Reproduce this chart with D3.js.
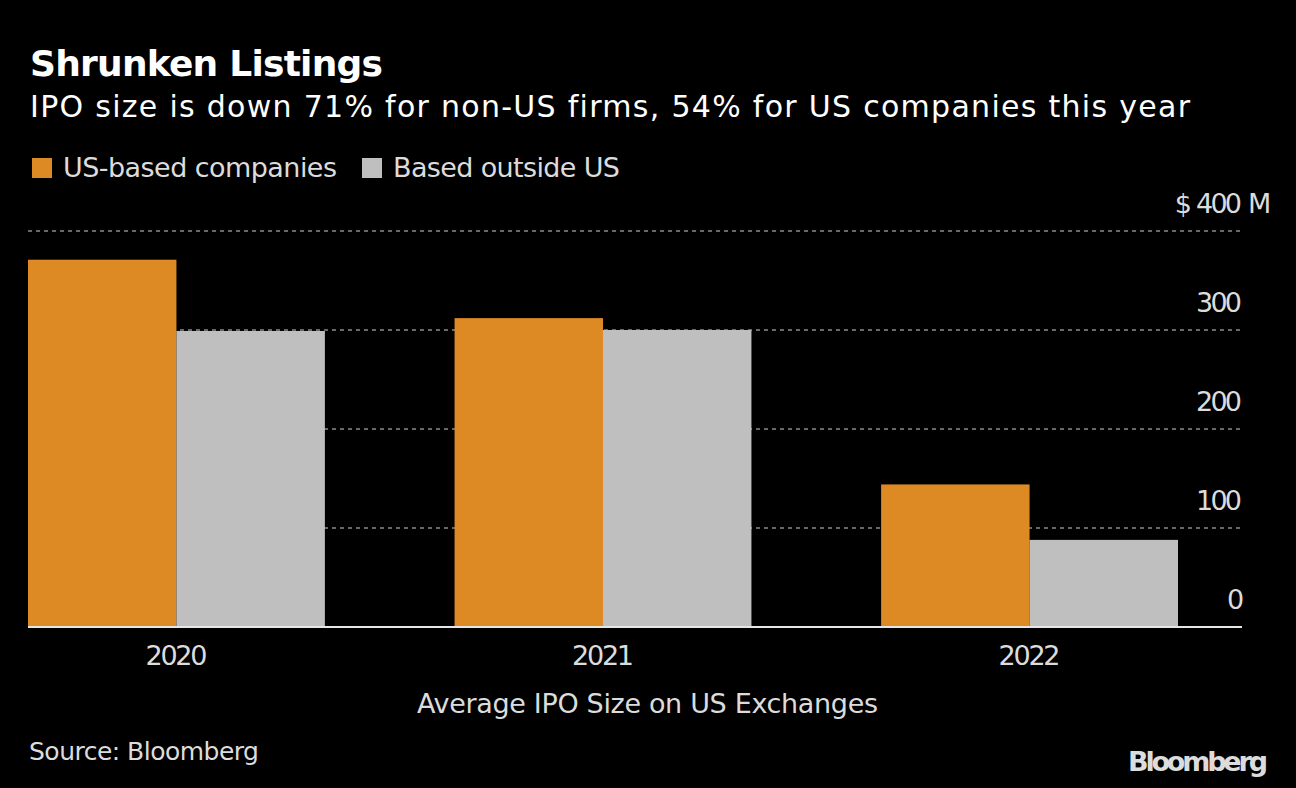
<!DOCTYPE html>
<html><head><meta charset="utf-8">
<script src="https://cdn.jsdelivr.net/npm/d3@7"></script>
<style>
html,body{margin:0;padding:0;background:#000;}
text{font-family:"DejaVu Sans",sans-serif;}
</style></head>
<body><svg id="c" width="1296" height="788"></svg>
<script>
const years = ["2020","2021","2022"];
const seriesNames = ["US-based companies","Based outside US"];
const usValues = [371, 312, 144];
const nonUsValues = [299, 300, 88];
const yTicks = [0,100,200,300,400];
const colors = ["#dd8a24","#bfbfbf"];

const svg = d3.select("#c");
svg.append("rect").attr("width",1296).attr("height",788).attr("fill","#000");

// fit text to a target width by letter-spacing; anchor: start|middle|end
function fitText(sel, x, anchor, target){
  const node = sel.node();
  sel.attr("text-anchor","start").attr("x",0).attr("letter-spacing",0);
  const w = node.getComputedTextLength();
  const n = node.textContent.length;
  const ls = n>1 ? (target - w)/(n-1) : 0;
  sel.attr("letter-spacing", ls.toFixed(3));
  let x0 = x;
  if(anchor==="middle") x0 = x - target/2;
  if(anchor==="end") x0 = x - target;
  sel.attr("x", x0);
  return sel;
}

const x0 = d3.scaleBand().domain(years).range([28,1178]).paddingInner(0.304).paddingOuter(0);
const x1 = d3.scaleBand().domain(seriesNames).range([0,x0.bandwidth()]).padding(0);
const y = d3.scaleLinear().domain([0,400]).range([627,231]);

// grid
svg.append("g").selectAll("line").data(yTicks.filter(d=>d>0)).join("line")
  .attr("x1",28).attr("x2",1242).attr("y1",d=>y(d)).attr("y2",d=>y(d))
  .attr("stroke","#8a8a8a").attr("stroke-width",1.5).attr("stroke-dasharray","4,4");

// bars
const data = years.map((yr,i)=>({year:yr, vals:[usValues[i], nonUsValues[i]]}));
const g = svg.append("g").selectAll("g").data(data).join("g")
  .attr("transform",d=>`translate(${x0(d.year)},0)`);
g.selectAll("rect").data(d=>d.vals.map((v,j)=>({name:seriesNames[j],v,j}))).join("rect")
  .attr("x",d=>x1(d.name)).attr("width",x1.bandwidth())
  .attr("y",d=>y(d.v)).attr("height",d=>y(0)-y(d.v))
  .attr("fill",d=>colors[d.j]);

// baseline
svg.append("line").attr("x1",28).attr("x2",1242).attr("y1",627).attr("y2",627)
  .attr("stroke","#e6e6e6").attr("stroke-width",2);

const lblColor = "#dcdcdc";
// y labels
yTicks.forEach(t=>{
  const s = svg.append("text").attr("y",y(t)-18).attr("font-size",27).attr("fill",lblColor).text(t);
  fitText(s,1242,"end",String(t).length===3?46:15);
});
svg.append("text").attr("x",1192).attr("y",y(400)-18).attr("text-anchor","end")
  .attr("font-size",27).attr("fill",lblColor).text("$");
svg.append("text").attr("x",1248).attr("y",y(400)-18).attr("text-anchor","start")
  .attr("font-size",27).attr("fill",lblColor).text("M");

// x labels
years.forEach(d=>{
  const s = svg.append("text").attr("y",665).attr("font-size",27).attr("fill",lblColor).text(d);
  fitText(s, x0(d)+x0.bandwidth()/2, "middle", 62);
});

fitText(svg.append("text").attr("y",713).attr("font-size",27).attr("fill",lblColor)
  .text("Average IPO Size on US Exchanges"), 647.5, "middle", 461);

// titles
fitText(svg.append("text").attr("y",76).attr("font-size",36).attr("font-weight","bold")
  .attr("fill","#fff").text("Shrunken Listings"), 30, "start", 353);
fitText(svg.append("text").attr("y",117).attr("font-size",30).attr("fill","#fff")
  .text("IPO size is down 71% for non-US firms, 54% for US companies this year"), 30, "start", 1160);

// legend
const legSq = [32, 362];
const legTx = [63, 393];
const legW = [274, 227];
seriesNames.forEach((n,i)=>{
  svg.append("rect").attr("x",legSq[i]).attr("y",158).attr("width",20).attr("height",20).attr("fill",colors[i]);
  fitText(svg.append("text").attr("y",177).attr("font-size",27).attr("fill",lblColor).text(n), legTx[i], "start", legW[i]);
});

fitText(svg.append("text").attr("y",760).attr("font-size",25).attr("fill",lblColor).text("Source: Bloomberg"), 29, "start", 230);
fitText(svg.append("text").attr("y",771).attr("font-size",27)
  .attr("font-weight","bold").attr("fill","#dcdcdc").attr("font-family","'Liberation Sans',Arial,sans-serif")
  .text("Bloomberg"), 1268, "end", 140);
</script></body></html>
